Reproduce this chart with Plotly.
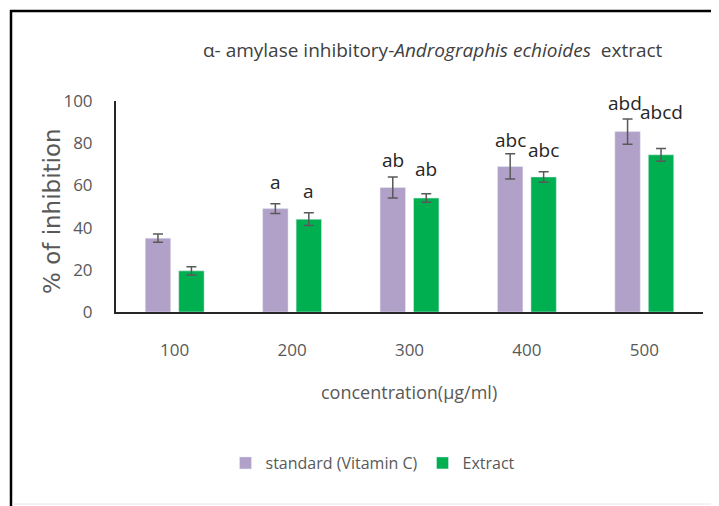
import plotly.graph_objects as go

categories = ["100", "200", "300", "400", "500"]
standard = [35, 49, 59, 69, 85.5]
standard_err = [2, 2.3, 5, 6, 6]
extract = [19.5, 44, 54, 64, 74.5]
extract_err = [2, 3, 2, 2.5, 3]
standard_labels = ["", "a", "ab", "abc", "abd"]
extract_labels = ["", "a", "ab", "abc", "abcd"]

# page body has an 8px margin: compensate so screen pixels match the reference
O = 8
W, H = 719 - O, 506 - O
L, R, T, B = 116 - O, 719 - 703, 101 - O, 506 - 312
pw, ph = W - L - R, H - T - B
bargap = 0.43
step = pw / len(categories)
off = (1 - bargap) * step / 4

PURPLE = "#B1A0C7"
GREEN = "#00B050"
GRAY = "#595959"
FONT = "Open Sans"

fig = go.Figure()
fig.add_trace(go.Bar(
    name="standard (Vitamin C)", x=categories, y=standard, marker_color=PURPLE,
    error_y=dict(type="data", array=standard_err, color=GRAY, thickness=1.5, width=5),
))
fig.add_trace(go.Bar(
    name="Extract", x=categories, y=extract, marker_color=GREEN,
    error_y=dict(type="data", array=extract_err, color=GRAY, thickness=1.5, width=5),
))


def px(xs):
    return (xs - O - L) / pw


def py(ys):
    return (312 - ys) / ph


ann = []
std_lift = [27, 27, 28, 26, 29]
ext_lift = [27, 28, 29, 27, 43]
for i, c in enumerate(categories):
    # category index used as annotation x (numeric-looking strings would be read as indices)
    if standard_labels[i]:
        ann.append(dict(x=i, y=standard[i], xref="x", yref="y", text=standard_labels[i],
                        showarrow=False, xshift=-off - (3 if i == 4 else 0), yshift=std_lift[i],
                        yanchor="middle", font=dict(family=FONT, size=19, color="#262626")))
    if extract_labels[i]:
        ann.append(dict(x=i, y=extract[i], xref="x", yref="y", text=extract_labels[i],
                        showarrow=False, xshift=off, yshift=ext_lift[i],
                        yanchor="middle", font=dict(family=FONT, size=19, color="#262626")))

ann.append(dict(x=px(409), y=py(392), xref="paper", yref="paper", showarrow=False,
                text="concentration(µg/ml)", yanchor="middle",
                font=dict(family=FONT, size=18, color=GRAY)))
ann.append(dict(x=px(52), y=py(211), xref="paper", yref="paper", showarrow=False,
                text="% of inhibition", textangle=-90, xanchor="center", yanchor="middle",
                font=dict(family="DejaVu Sans", size=23, color=GRAY)))
ann.append(dict(x=px(433), y=py(50), xref="paper", yref="paper", showarrow=False,
                text="α- amylase inhibitory-<i>Andrographis echioides</i>  extract",
                yanchor="middle", font=dict(family=FONT, size=19, color="#404040")))

shapes = [
    dict(type="line", xref="paper", yref="paper", x0=px(10), x1=px(730), y0=py(11), y1=py(11),
         line=dict(color="black", width=2.5)),
    dict(type="line", xref="paper", yref="paper", x0=px(11), x1=px(11), y0=py(10), y1=py(520),
         line=dict(color="black", width=2.5)),
    dict(type="line", xref="paper", yref="paper", x0=px(12), x1=px(730), y0=py(504), y1=py(504),
         line=dict(color="#E6E6E6", width=1)),
]

fig.update_layout(
    width=W, height=H,
    margin=dict(l=L, r=R, t=T, b=B),
    paper_bgcolor="white", plot_bgcolor="white",
    barmode="group", bargap=bargap, bargroupgap=0.24,
    showlegend=True,
    legend=dict(orientation="h", x=px(373), y=py(463), xanchor="center", yanchor="middle",
                font=dict(family=FONT, size=16, color=GRAY), itemwidth=30,
                bgcolor="rgba(0,0,0,0)"),
    annotations=ann,
    shapes=shapes,
    xaxis=dict(type="category", range=[-0.5, len(categories) - 0.5], showline=True,
               linecolor="#262626", linewidth=2, ticks="", showgrid=False,
               tickfont=dict(family=FONT, size=17, color=GRAY), ticklabelstandoff=22),
    yaxis=dict(range=[0, 100], dtick=20, showline=True, linecolor="#262626", linewidth=2,
               ticks="", showgrid=False, zeroline=False,
               tickfont=dict(family=FONT, size=17, color=GRAY), ticklabelstandoff=18),
)

fig.write_html("out.html")
